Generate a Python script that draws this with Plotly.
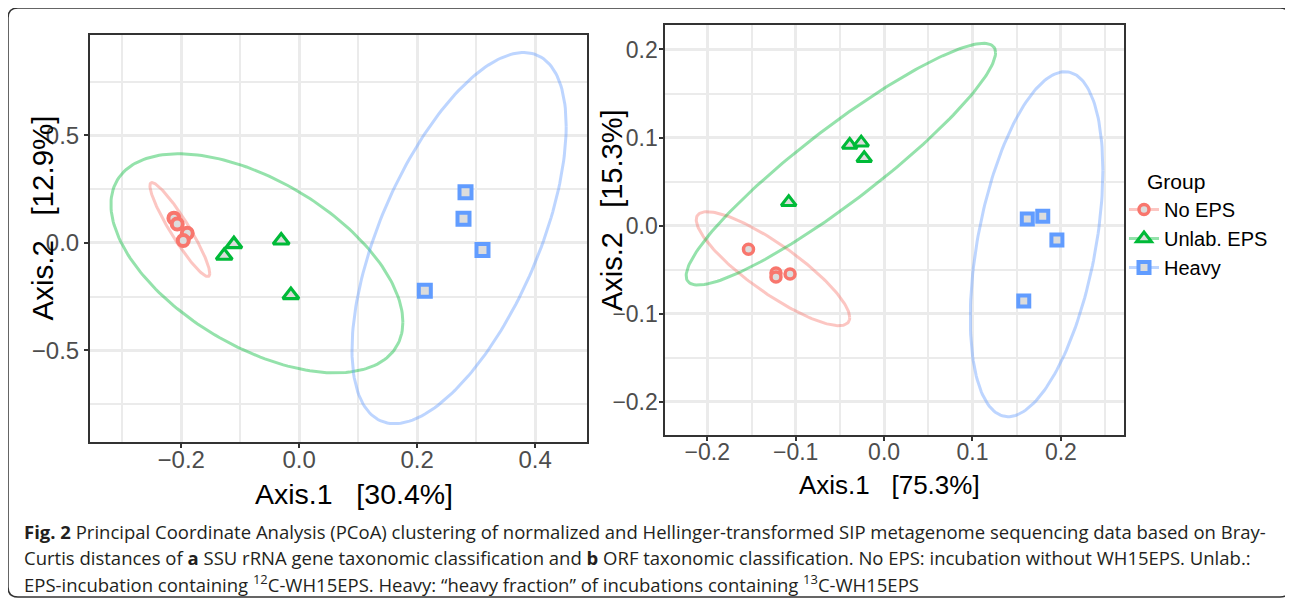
import numpy as np
import plotly.graph_objects as go

W, H = 1293, 605
OFF = 8  # default page margin of the html body

groups = ["No EPS", "Unlab. EPS", "Heavy"]
colors = ["#F8766D", "#00BA38", "#619CFF"]
ell_colors = ["rgba(248,118,109,0.42)", "rgba(0,186,56,0.42)", "rgba(97,156,255,0.42)"]
symbols = ["circle", "triangle-up", "square"]
inner_fill = "#dcdcdc"

# ---------------- panel a (SSU rRNA) ----------------
a_noeps_x = [-0.2124, -0.2068, -0.1898, -0.1966]
a_noeps_y = [0.115, 0.088, 0.045, 0.011]
a_unlab_x = [-0.1107, -0.1271, -0.0305, -0.0141]
a_unlab_y = [-0.006, -0.060, 0.011, -0.243]
a_heavy_x = [0.282, 0.2786, 0.3108, 0.213]
a_heavy_y = [0.236, 0.112, -0.033, -0.223]
# ellipse parameters: centre x, centre y, x half-extent, y half-extent, correlation
a_ell_cx = [-0.2024, -0.0717, 0.2711]
a_ell_cy = [0.0619, -0.0953, 0.0223]
a_ell_sx = [0.0507, 0.2475, 0.1816]
a_ell_sy = [0.2186, 0.510, 0.864]
a_ell_r = [-0.931, -0.537, 0.603]

# ---------------- panel b (ORF) ----------------
b_noeps_x = [-0.1534, -0.1223, -0.1223, -0.1064]
b_noeps_y = [-0.0268, -0.0537, -0.0582, -0.0548]
b_unlab_x = [-0.0389, -0.0259, -0.0225, -0.1079]
b_unlab_y = [0.0916, 0.0942, 0.0765, 0.0266]
b_heavy_x = [0.162, 0.1795, 0.1955, 0.158]
b_heavy_y = [0.0076, 0.0107, -0.0162, -0.0855]
b_ell_cx = [-0.1257, -0.0489, 0.1725]
b_ell_cy = [-0.0488, 0.0698, -0.021]
b_ell_sx = [0.0868, 0.175, 0.075]
b_ell_sy = [0.0647, 0.1372, 0.1958]
b_ell_r = [-0.858, 0.923, 0.428]

a_xtitle = "Axis.1\u00a0\u00a0\u00a0[30.4%]"
a_ytitle = "Axis.2\u00a0\u00a0\u00a0[12.9%]"
b_xtitle = "Axis.1\u00a0\u00a0\u00a0[75.3%]"
b_ytitle = "Axis.2\u00a0\u00a0\u00a0[15.3%]"
legend_title = "Group"

caption_lines = [
    "<b>Fig. 2</b> Principal Coordinate Analysis (PCoA) clustering of normalized and Hellinger-transformed SIP metagenome sequencing data based on Bray-",
    "Curtis distances of <b>a</b> SSU rRNA gene taxonomic classification and <b>b</b> ORF taxonomic classification. No EPS: incubation without WH15EPS. Unlab.:",
    "EPS-incubation containing <sup>12</sup>C-WH15EPS. Heavy: \u201cheavy fraction\u201d of incubations containing <sup>13</sup>C-WH15EPS",
]


def px(x):
    return (x - OFF) / W


def py(y):
    return 1 - (y - OFF) / H


def ellipse(cx, cy, sx, sy, r, n=200):
    m = np.array([[sx * sx, r * sx * sy], [r * sx * sy, sy * sy]])
    L = np.linalg.cholesky(m)
    t = np.linspace(0, 2 * np.pi, n)
    pts = L @ np.vstack([np.cos(t), np.sin(t)])
    return cx + pts[0], cy + pts[1]


fig = go.Figure()

panels = [
    dict(xa="x", ya="y",
         pts=[(a_noeps_x, a_noeps_y), (a_unlab_x, a_unlab_y), (a_heavy_x, a_heavy_y)],
         ell=(a_ell_cx, a_ell_cy, a_ell_sx, a_ell_sy, a_ell_r),
         msize=[11, 14, 12], lw=[4, 3.2, 4]),
    dict(xa="x2", ya="y2",
         pts=[(b_noeps_x, b_noeps_y), (b_unlab_x, b_unlab_y), (b_heavy_x, b_heavy_y)],
         ell=(b_ell_cx, b_ell_cy, b_ell_sx, b_ell_sy, b_ell_r),
         msize=[10, 13, 11], lw=[3.5, 3, 4]),
]

for p in panels:
    cxs, cys, sxs, sys_, rs = p["ell"]
    for i in range(3):
        ex, ey = ellipse(cxs[i], cys[i], sxs[i], sys_[i], rs[i])
        fig.add_trace(go.Scatter(x=ex, y=ey, mode="lines", xaxis=p["xa"], yaxis=p["ya"],
                                 line=dict(color=ell_colors[i], width=3),
                                 showlegend=False, hoverinfo="skip"))
    for i in range(3):
        xs, ys = p["pts"][i]
        fig.add_trace(go.Scatter(x=xs, y=ys, mode="markers", xaxis=p["xa"], yaxis=p["ya"],
                                 marker=dict(symbol=symbols[i], size=p["msize"][i], color=inner_fill,
                                             line=dict(color=colors[i], width=p["lw"][i])),
                                 showlegend=False, name=groups[i]))

# legend entries
leg_size = [10, 13, 11]
leg_lw = [3.5, 3, 4]
for i in range(3):
    fig.add_trace(go.Scatter(x=[None], y=[None], mode="lines+markers", name=groups[i],
                             xaxis="x2", yaxis="y2",
                             line=dict(color=ell_colors[i], width=3),
                             marker=dict(symbol=symbols[i], size=leg_size[i], color=inner_fill,
                                         line=dict(color=colors[i], width=leg_lw[i]))))

grid_major = "#ebebeb"
axis_common = dict(showline=True, mirror=True, linecolor="#333333", linewidth=2,
                   ticks="outside", ticklen=4, tickwidth=2, tickcolor="#333333",
                   showgrid=True, gridcolor=grid_major, gridwidth=3, zeroline=False,
                   tickformat=".1f", fixedrange=True)

fig.update_layout(
    width=W, height=H,
    margin=dict(l=0, r=0, t=0, b=0),
    paper_bgcolor="white", plot_bgcolor="white",
    font=dict(family="Liberation Sans, Arial, sans-serif", color="#000000"),
    xaxis=dict(domain=[px(90), px(587)], range=[-0.3547, 0.488], anchor="y",
               tick0=0, dtick=0.2, ticklabelstandoff=-9,
               minor=dict(dtick=0.1, tick0=0, showgrid=True, gridcolor=grid_major, gridwidth=2),
               tickfont=dict(size=24, color="#4d4d4d"), **axis_common),
    yaxis=dict(domain=[py(442), py(34.5)], range=[-0.927, 0.970], anchor="x",
               tick0=0, dtick=0.5,
               minor=dict(dtick=0.25, tick0=0, showgrid=True, gridcolor=grid_major, gridwidth=2),
               tickfont=dict(size=24, color="#4d4d4d"), **axis_common),
    xaxis2=dict(domain=[px(665.4), px(1124)], range=[-0.2474, 0.2714], anchor="y2",
                tick0=0, dtick=0.1, ticklabelstandoff=-9,
                minor=dict(dtick=0.05, tick0=0, showgrid=True, gridcolor=grid_major, gridwidth=2),
                tickfont=dict(size=23, color="#4d4d4d"), **axis_common),
    yaxis2=dict(domain=[py(435), py(25)], range=[-0.2376, 0.2278], anchor="x2",
                tick0=0, dtick=0.1, ticklabelstandoff=-3,
                minor=dict(dtick=0.05, tick0=0, showgrid=True, gridcolor=grid_major, gridwidth=2),
                tickfont=dict(size=23, color="#4d4d4d"), **axis_common),
    legend=dict(x=px(1124), y=py(190), xanchor="left", yanchor="top",
                font=dict(size=20, color="#000000"), bgcolor="rgba(0,0,0,0)",
                tracegroupgap=0, itemwidth=30),
    showlegend=True,
)

ann = []
ann.append(dict(text=a_xtitle, x=px(354), y=py(494), xref="paper", yref="paper",
                showarrow=False, xanchor="center", yanchor="middle", font=dict(size=28.5)))
ann.append(dict(text=a_ytitle, x=px(42), y=py(218.5), xref="paper", yref="paper",
                showarrow=False, xanchor="center", yanchor="middle", textangle=-90, font=dict(size=29.5)))
ann.append(dict(text=b_xtitle, x=px(889), y=py(485), xref="paper", yref="paper",
                showarrow=False, xanchor="center", yanchor="middle", font=dict(size=26)))
ann.append(dict(text=b_ytitle, x=px(612), y=py(210), xref="paper", yref="paper",
                showarrow=False, xanchor="center", yanchor="middle", textangle=-90, font=dict(size=29)))
ann.append(dict(text=legend_title, x=px(1145), y=py(182), xref="paper", yref="paper",
                showarrow=False, xanchor="left", yanchor="middle", font=dict(size=21)))
for k, line in enumerate(caption_lines):
    ann.append(dict(text=line, x=px(22), y=py(531 + 26 * k), xref="paper", yref="paper",
                    showarrow=False, xanchor="left", yanchor="middle", align="left",
                    font=dict(size=18.5, family="Open Sans", color="#231f20")))
fig.update_layout(annotations=ann)

# outer rounded frame
x0, y0, x1, y1, rr = 8, 8, 1290, 597, 10
path = (f"M {px(x0 + rr)},{py(y0)} L {px(x1 - rr)},{py(y0)} Q {px(x1)},{py(y0)} {px(x1)},{py(y0 + rr)} "
        f"L {px(x1)},{py(y1 - rr)} Q {px(x1)},{py(y1)} {px(x1 - rr)},{py(y1)} "
        f"L {px(x0 + rr)},{py(y1)} Q {px(x0)},{py(y1)} {px(x0)},{py(y1 - rr)} "
        f"L {px(x0)},{py(y0 + rr)} Q {px(x0)},{py(y0)} {px(x0 + rr)},{py(y0)} Z")
fig.add_shape(type="path", path=path, xref="paper", yref="paper",
              line=dict(color="#333333", width=1.5), layer="below")

fig.write_html("out.html")
